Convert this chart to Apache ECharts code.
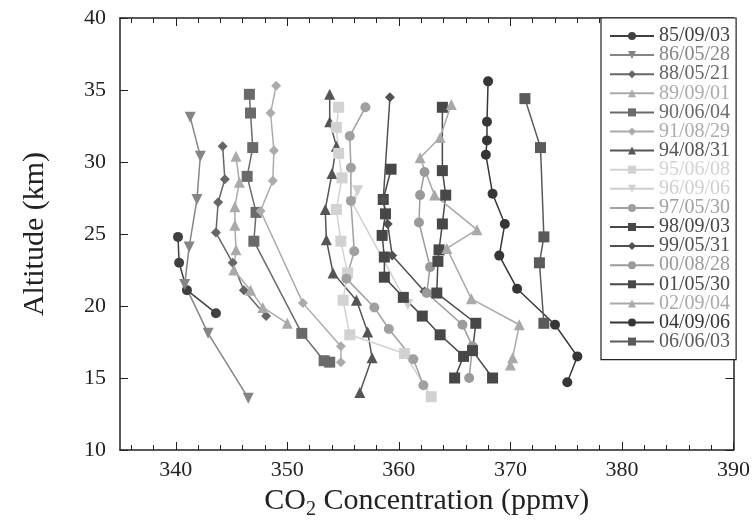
<!DOCTYPE html>
<html>
<head>
<meta charset="utf-8">
<script src="https://cdn.jsdelivr.net/npm/echarts@6/dist/echarts.min.js"></script>
<style>
  html, body { margin: 0; padding: 0; background: #fff; }
  #chart { width: 753px; height: 532px; }
</style>
</head>
<body>
<div id="chart"></div>
<script>
// profile dates (legend order)
const dates = ['85/09/03', '86/05/28', '88/05/21', '89/09/01', '90/06/04', '91/08/29',
  '94/08/31', '95/06/08', '96/09/06', '97/05/30', '98/09/03', '99/05/31',
  '00/08/28', '01/05/30', '02/09/04', '04/09/06', '06/06/03']

// each profile: [CO2 ppmv, altitude km]
const p850903 = [[340.2, 24.8], [340.3, 23.0], [341.0, 21.1], [343.6, 19.5]]
const p860528 = [[341.3, 33.1], [342.2, 30.4], [341.9, 27.4], [341.2, 24.1], [340.8, 21.5], [342.9, 18.1], [346.5, 13.6]]
const p880521 = [[344.2, 31.1], [344.4, 28.8], [343.8, 27.2], [343.6, 25.1], [345.1, 23.0], [346.1, 21.1], [348.1, 19.3]]
const p890901 = [[345.4, 30.4], [345.7, 28.6], [345.3, 26.9], [345.3, 25.6], [345.4, 23.9], [345.2, 22.5], [346.7, 21.1], [347.8, 19.9], [350.0, 18.8]]
const p900604 = [[346.6, 34.7], [346.7, 33.4], [346.9, 31.0], [346.4, 29.0], [347.2, 26.5], [347.0, 24.5], [351.3, 18.1], [353.3, 16.2], [353.8, 16.1]]
const p910829 = [[349.0, 35.3], [348.5, 33.4], [348.8, 30.8], [348.7, 28.7], [347.6, 26.6], [351.4, 20.2], [354.8, 17.2], [354.8, 16.1]]
const p940831 = [[353.8, 34.7], [353.8, 32.8], [354.4, 31.1], [354.0, 29.2], [353.4, 26.7], [353.5, 24.6], [354.1, 22.3], [356.2, 20.4], [357.2, 18.2], [357.6, 16.4], [356.5, 14.0]]
const p950608 = [[354.6, 33.8], [354.4, 32.4], [354.6, 30.6], [354.9, 28.9], [354.4, 26.7], [354.8, 24.5], [355.4, 22.3], [355.0, 20.4], [355.6, 18.0], [360.5, 16.7], [362.9, 13.7]]
const p960906 = [[356.3, 28.0], [355.8, 27.2], [360.8, 20.1]]
const p970530 = [[357.0, 33.8], [355.6, 31.8], [355.7, 29.6], [355.7, 27.3], [356.0, 23.8], [355.3, 21.9], [357.8, 19.9], [359.1, 18.4], [361.3, 16.3], [362.2, 14.5]]
const p980903 = [[359.3, 29.5], [358.6, 27.4], [358.8, 26.4], [358.5, 24.9], [358.7, 23.4], [358.7, 22.0], [360.4, 20.6], [362.1, 19.3], [363.7, 18.0], [365.8, 16.5], [365.0, 15.0]]
const p990531 = [[359.2, 34.5], [358.6, 27.4], [359.0, 25.7], [359.4, 23.5], [362.3, 21.0]]
const p000828 = [[362.3, 29.3], [361.9, 27.7], [361.8, 25.8], [362.8, 22.7], [362.5, 20.9], [365.7, 18.7], [366.6, 17.2], [366.3, 15.0]]
const p010530 = [[363.9, 33.8], [363.9, 29.4], [364.2, 27.7], [363.9, 25.7], [363.6, 23.9], [363.5, 23.1], [363.4, 20.9], [366.9, 18.8], [366.6, 16.9], [368.4, 15.0]]
const p020904 = [[364.7, 34.0], [363.7, 31.7], [361.9, 30.3], [363.2, 27.7], [367.0, 25.3], [364.3, 24.0], [366.5, 20.5], [370.8, 18.7], [370.2, 16.4], [370.0, 15.9]]
const p040906 = [[368.0, 35.6], [367.9, 32.8], [367.9, 31.5], [367.8, 30.5], [368.4, 27.8], [369.5, 25.7], [369.0, 23.5], [370.6, 21.2], [374.0, 18.7], [376.0, 16.5], [375.1, 14.7]]
const p060603 = [[371.3, 34.4], [372.7, 31.0], [373.0, 24.8], [372.6, 23.0], [373.0, 18.8]]

const profiles = [p850903, p860528, p880521, p890901, p900604, p910829, p940831, p950608,
  p960906, p970530, p980903, p990531, p000828, p010530, p020904, p040906, p060603]

// axis ticks
const xMajor = [340, 350, 360, 370, 380, 390]
const xMinor = [336, 338, 342, 344, 346, 348, 352, 354, 356, 358, 362, 364, 366, 368,
  372, 374, 376, 378, 382, 384, 386, 388]

const colors = ['#404040', '#858585', '#666666', '#aaaaaa', '#6a6a6a', '#ababab', '#555555', '#d2d2d2',
  '#cfcfcf', '#a0a0a0', '#474747', '#505050', '#9a9a9a', '#484848', '#a9a9a9', '#363636', '#5a5a5a']

const down = 'path://M0,0 L10,0 L5,9 Z'
const symbols = ['circle', down, 'diamond', 'triangle', 'rect', 'diamond', 'triangle', 'rect',
  down, 'circle', 'rect', 'diamond', 'circle', 'rect', 'triangle', 'circle', 'rect']
const sizes = [10, 11, 10, 11, 11, 10, 11, 11, 11, 10, 11, 10, 10, 11, 11, 10, 11]

const font = '"Liberation Serif", "DejaVu Serif", serif'
const ink = '#222'

const chart = echarts.init(document.getElementById('chart'))

// one x axis per tick set (major / minor), bottom and top
const xSide = (pos, ticks, len, showLine, showLabel) => ({
  type: 'value', min: 335, max: 390, position: pos,
  axisLine: { show: showLine, onZero: false, lineStyle: { color: ink, width: 1.5 } },
  axisTick: { show: true, inside: true, length: len, customValues: ticks, lineStyle: { color: ink } },
  splitLine: { show: false },
  axisLabel: { show: showLabel, customValues: xMajor, fontFamily: font, fontSize: 22, color: ink, margin: 9 }
})

const ySide = (pos, showLabel) => ({
  type: 'value', min: 10, max: 40, interval: 5, position: pos,
  axisLine: { show: true, onZero: false, lineStyle: { color: ink, width: 1.5 } },
  axisTick: { inside: true, length: 8, lineStyle: { color: ink } },
  splitLine: { show: false },
  axisLabel: { show: showLabel, fontFamily: font, fontSize: 22, color: ink, margin: 14 }
})

chart.setOption({
  animation: false,
  backgroundColor: '#fff',
  grid: { left: 120, right: 18, top: 18, bottom: 82 },
  xAxis: [
    Object.assign(xSide('bottom', xMajor, 8, true, true), {
      name: '{a|CO}{s|2}{a| Concentration (ppmv)}',
      nameLocation: 'middle',
      nameGap: 32,
      nameTextStyle: {
        rich: {
          a: { fontFamily: font, fontSize: 30, color: ink },
          s: { fontFamily: font, fontSize: 20, color: ink, padding: [18, 0, 0, 0] }
        }
      }
    }),
    xSide('bottom', xMinor, 5, false, false),
    xSide('top', xMajor, 8, true, false),
    xSide('top', xMinor, 5, false, false)
  ],
  yAxis: [
    Object.assign(ySide('left', true), {
      name: 'Altitude (km)',
      nameLocation: 'middle',
      nameGap: 70,
      nameTextStyle: { fontFamily: font, fontSize: 30, color: ink }
    }),
    ySide('right', false)
  ],
  legend: {
    orient: 'vertical',
    left: 601,
    top: 18,
    width: 134,
    padding: [8, 6, 8, 8],
    borderColor: ink,
    borderWidth: 1.2,
    backgroundColor: '#fff',
    itemWidth: 44,
    itemHeight: 10,
    itemGap: -0.9,
    textStyle: { fontFamily: font, fontSize: 20, lineHeight: 19.1 },
    data: dates.map((d, i) => ({ name: d, textStyle: { color: colors[i] } }))
  },
  series: profiles.map((pts, i) => ({
    name: dates[i],
    type: 'line',
    data: pts,
    color: colors[i],
    symbol: symbols[i],
    symbolSize: sizes[i],
    showAllSymbol: true,
    lineStyle: { width: 1.5, color: colors[i] },
    itemStyle: { color: colors[i] },
    z: 2
  }))
})
</script>
</body>
</html>
